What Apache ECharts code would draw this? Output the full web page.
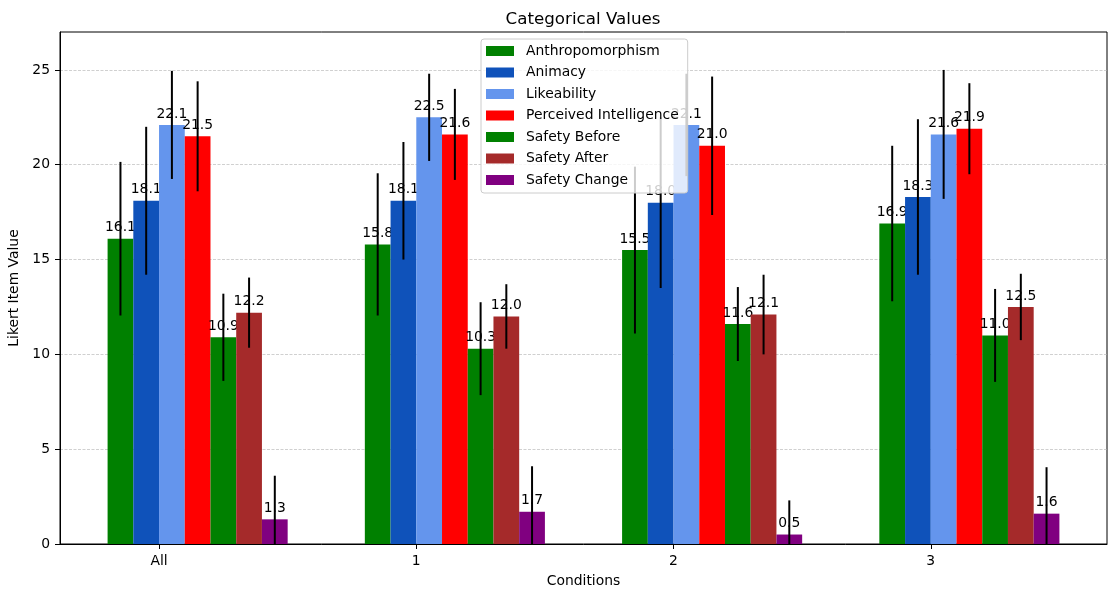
<!DOCTYPE html>
<html>
<head>
<meta charset="utf-8">
<script src="https://cdn.jsdelivr.net/npm/echarts@6/dist/echarts.min.js"></script>
<style>
  html, body { margin: 0; padding: 0; background: #fff; }
  #chart { width: 1108px; height: 592px; }
</style>
</head>
<body>
<div id="chart"></div>
<script>
// Conditions on the x axis
const categories = ['All', '1', '2', '3'];

// Mean Likert values per condition
const anthropomorphism = [16.1, 15.8, 15.5, 16.9];
const animacy = [18.1, 18.1, 18.0, 18.3];
const likeability = [22.1, 22.5, 22.1, 21.6];
const perceivedIntelligence = [21.5, 21.6, 21.0, 21.9];
const safetyBefore = [10.9, 10.3, 11.6, 11.0];
const safetyAfter = [12.2, 12.0, 12.1, 12.5];
const safetyChange = [1.3, 1.7, 0.5, 1.6];

// Standard deviations (error bars)
const anthropomorphismErr = [4.05, 3.75, 4.4, 4.1];
const animacyErr = [3.9, 3.1, 4.5, 4.1];
const likeabilityErr = [2.85, 2.3, 2.7, 3.4];
const perceivedIntelligenceErr = [2.9, 2.4, 3.65, 2.4];
const safetyBeforeErr = [2.3, 2.45, 1.95, 2.45];
const safetyAfterErr = [1.85, 1.7, 2.1, 1.75];
const safetyChangeErr = [2.3, 2.4, 1.8, 2.45];

const yTicks = [0, 5, 10, 15, 20, 25];

const seriesDefs = [
  { name: 'Anthropomorphism', values: anthropomorphism, errs: anthropomorphismErr, color: '#008000' },
  { name: 'Animacy', values: animacy, errs: animacyErr, color: '#0f52ba' },
  { name: 'Likeability', values: likeability, errs: likeabilityErr, color: '#6495ed' },
  { name: 'Perceived Intelligence', values: perceivedIntelligence, errs: perceivedIntelligenceErr, color: '#ff0000' },
  { name: 'Safety Before', values: safetyBefore, errs: safetyBeforeErr, color: '#008000' },
  { name: 'Safety After', values: safetyAfter, errs: safetyAfterErr, color: '#a52a2a' },
  { name: 'Safety Change', values: safetyChange, errs: safetyChangeErr, color: '#800080' }
];

const BAR_W = 0.1;
const FONT = 'DejaVu Sans';

function makeSeries(def, si) {
  const offset = (si - 1.5) * BAR_W;
  return {
    type: 'custom',
    name: def.name,
    clip: true,
    itemStyle: { color: def.color },
    data: def.values.map((v, i) => [i, v, def.errs[i]]),
    renderItem: function (params, api) {
      const x = api.value(0) + offset;
      const v = api.value(1);
      const e = api.value(2);
      const p0 = api.coord([x - BAR_W / 2, v]);
      const p1 = api.coord([x + BAR_W / 2, 0]);
      const top = api.coord([x, v + e]);
      const bot = api.coord([x, v - e]);
      return {
        type: 'group',
        children: [
          {
            type: 'rect',
            shape: { x: p0[0], y: p0[1], width: p1[0] - p0[0], height: p1[1] - p0[1] },
            style: { fill: def.color }
          },
          {
            type: 'line',
            shape: { x1: top[0], y1: top[1], x2: bot[0], y2: bot[1] },
            style: { stroke: '#000', lineWidth: 2 }
          },
          {
            type: 'text',
            x: (p0[0] + p1[0]) / 2,
            y: p0[1] - 4,
            style: {
              text: v.toFixed(1),
              textAlign: 'center',
              textVerticalAlign: 'bottom',
              fontFamily: FONT,
              fontSize: 13.9,
              fill: '#000'
            }
          }
        ]
      };
    }
  };
}

const chart = echarts.init(document.getElementById('chart'), null, { renderer: 'canvas' });

chart.setOption({
  animation: false,
  backgroundColor: '#fff',
  title: {
    text: 'Categorical Values',
    left: 578,
    top: 6,
    textAlign: 'center',
    textStyle: { fontFamily: FONT, fontSize: 16.7, fontWeight: 'normal', color: '#000' }
  },
  legend: {
    orient: 'vertical',
    left: 481,
    top: 39,
    padding: [5, 9, 6, 5],
    itemWidth: 28,
    itemHeight: 10,
    itemGap: 7.5,
    icon: 'rect',
    backgroundColor: 'rgba(255,255,255,0.8)',
    borderColor: '#cccccc',
    borderWidth: 1,
    borderRadius: 3,
    textStyle: { fontFamily: FONT, fontSize: 13.9, color: '#000', padding: [0, 0, 0, 7] },
    data: seriesDefs.map(d => d.name)
  },
  grid: {
    left: 60, right: 1, top: 32, bottom: 48,
    outerBoundsMode: 'none',
    containLabel: false,
    show: true, borderColor: '#000', borderWidth: 1, backgroundColor: 'transparent'
  },
  xAxis: {
    type: 'value',
    min: -0.385,
    max: 3.685,
    name: 'Conditions',
    nameLocation: 'middle',
    nameGap: 30,
    nameTextStyle: { fontFamily: FONT, fontSize: 13.9, color: '#000' },
    axisLine: { show: true, onZero: false, lineStyle: { color: '#000', width: 1 } },
    axisTick: { show: true, length: 5, lineStyle: { color: '#000' }, customValues: categories.map((c, i) => i) },
    axisLabel: {
      fontFamily: FONT, fontSize: 13.9, color: '#000', margin: 10,
      customValues: categories.map((c, i) => i),
      formatter: v => categories[Math.round(v)]
    },
    splitLine: { show: false }
  },
  yAxis: {
    type: 'value',
    min: 0,
    max: 27,
    interval: 5,
    name: 'Likert Item Value',
    nameLocation: 'middle',
    nameGap: 26,
    nameTextStyle: { fontFamily: FONT, fontSize: 13.9, color: '#000' },
    axisLine: { show: true, onZero: false, lineStyle: { color: '#000', width: 1 } },
    axisTick: { show: true, length: 5, lineStyle: { color: '#000' }, customValues: yTicks },
    axisLabel: { fontFamily: FONT, fontSize: 13.9, color: '#000', margin: 10, customValues: yTicks },
    splitLine: { show: true, lineStyle: { color: '#b0b0b0', width: 0.6, type: [3, 1.5] } }
  },
  series: seriesDefs.map(makeSeries)
});
</script>
</body>
</html>
